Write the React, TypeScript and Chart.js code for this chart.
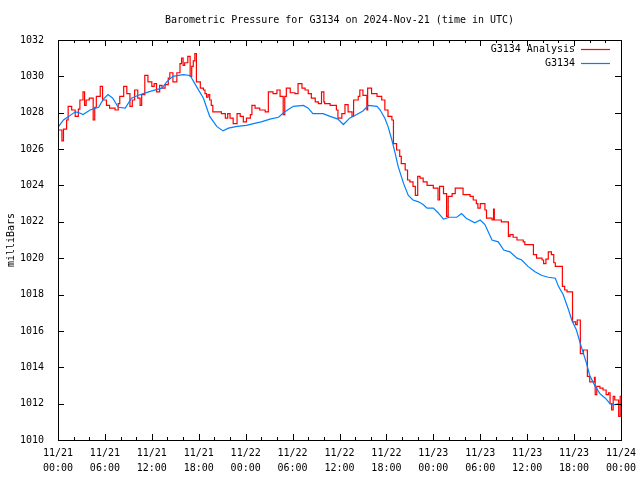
import React, { useEffect, useRef } from 'react';
import { Chart, registerables } from 'chart.js';

Chart.register(...registerables);

const chartTitle = 'Barometric Pressure for G3134 on 2024-Nov-21 (time in UTC)';
const yAxisLabel = 'milliBars';
const seriesNames = ['G3134 Analysis', 'G3134'];
const seriesColors = ['#ff0000', '#0080ff'];

const xTickHours = [0, 6, 12, 18, 24, 30, 36, 42, 48, 54, 60, 66, 72];
const xTickDates = ['11/21', '11/21', '11/21', '11/21', '11/22', '11/22', '11/22', '11/22', '11/23', '11/23', '11/23', '11/23', '11/24'];
const xTickTimes = ['00:00', '06:00', '12:00', '18:00', '00:00', '06:00', '12:00', '18:00', '00:00', '06:00', '12:00', '18:00', '00:00'];
const yTickValues = [1010, 1012, 1014, 1016, 1018, 1020, 1022, 1024, 1026, 1028, 1030, 1032];

// hours since 2024-11-21 00:00 UTC
const analysisHours = [
  0.0, 0.5, 0.7, 1.1, 1.3, 1.75, 2.2, 2.6, 2.8, 3.2, 3.4, 3.6, 4.0, 4.5, 4.7, 4.9, 5.4, 5.7, 6.2, 6.6,
  7.3, 7.7, 7.9, 8.4, 8.8, 9.2, 9.5, 9.8, 10.2, 10.5, 10.7, 11.1, 11.5, 12.0, 12.3, 12.6, 13.0, 13.3, 13.7, 14.1,
  14.3, 14.7, 15.2, 15.6, 15.8, 16.0, 16.2, 16.6, 16.9, 17.1, 17.3, 17.5, 17.7, 18.2, 18.6, 18.8, 19.0, 19.2, 19.4, 19.6,
  19.8, 20.5, 20.9, 21.4, 21.7, 22.0, 22.4, 22.9, 23.3, 23.7, 24.1, 24.6, 24.8, 25.2, 25.8, 26.5, 26.9, 27.5, 28.0, 28.4,
  28.8, 29.0, 29.2, 29.7, 30.3, 30.7, 31.2, 31.6, 32.0, 32.4, 32.9, 33.3, 33.7, 34.0, 34.1, 34.8, 35.6, 35.8, 36.3, 36.7,
  37.1, 37.6, 37.8, 38.4, 38.6, 39.0, 39.5, 39.6, 40.1, 40.8, 41.4, 41.8, 42.2, 42.7, 42.9, 43.3, 43.7, 43.9, 44.4, 44.7,
  45.0, 45.4, 45.7, 46.0, 46.3, 46.7, 47.2, 48.0, 48.6, 48.8, 49.3, 49.7, 49.9, 50.4, 50.8, 51.7, 51.8, 52.7, 53.1, 53.5,
  53.7, 54.0, 54.6, 54.8, 55.5, 55.7, 55.8, 56.7, 57.6, 57.8, 58.2, 58.7, 59.5, 59.7, 60.8, 61.2, 61.9, 62.1, 62.4, 62.7,
  63.1, 63.4, 63.6, 64.5, 64.8, 65.1, 65.8, 66.2, 66.4, 66.8, 67.2, 67.7, 68.0, 68.6, 68.7, 68.9, 69.3, 69.7, 70.1, 70.4,
  70.6, 70.8, 71.0, 71.2, 71.7, 71.9, 72.0,
];
const analysisValues = [
  1027.05, 1026.45, 1027.1, 1027.6, 1028.35, 1028.15, 1027.8, 1028.2, 1028.7, 1029.15, 1028.4, 1028.7, 1028.8, 1027.6, 1028.3, 1028.9, 1029.45, 1028.7, 1028.4, 1028.25,
  1028.15, 1028.5, 1028.9, 1029.45, 1029.05, 1028.35, 1028.7, 1029.25, 1028.8, 1028.4, 1029.0, 1030.05, 1029.7, 1029.45, 1029.6, 1029.15, 1029.5, 1029.35, 1029.55, 1029.9,
  1030.2, 1029.7, 1030.2, 1030.7, 1031.0, 1030.6, 1030.75, 1031.1, 1030.0, 1030.55, 1030.85, 1031.25, 1029.7, 1029.35, 1029.25, 1029.05, 1028.85, 1029.0, 1028.7, 1028.4,
  1028.05, 1028.05, 1027.95, 1027.7, 1027.95, 1027.7, 1027.4, 1027.95, 1027.8, 1027.5, 1027.7, 1027.9, 1028.4, 1028.25, 1028.15, 1028.05, 1029.15, 1029.05, 1029.25, 1028.9,
  1027.9, 1028.9, 1029.35, 1029.1, 1029.05, 1029.6, 1029.35, 1029.25, 1029.05, 1028.8, 1028.6, 1028.5, 1029.15, 1028.6, 1028.5, 1028.4, 1028.15, 1027.7, 1027.95, 1028.45,
  1028.05, 1027.8, 1028.7, 1028.9, 1029.25, 1028.95, 1028.15, 1029.35, 1029.05, 1028.9, 1028.7, 1028.15, 1027.8, 1027.6, 1026.3, 1025.95, 1025.6, 1025.2, 1024.85, 1024.3,
  1024.2, 1023.95, 1023.45, 1024.5, 1024.4, 1024.2, 1024.0, 1023.85, 1023.2, 1023.95, 1023.55, 1022.3, 1023.4, 1023.55, 1023.85, 1023.85, 1023.5, 1023.4, 1023.2, 1023.0,
  1022.75, 1023.0, 1022.65, 1022.2, 1022.1, 1022.7, 1022.1, 1022.0, 1021.2, 1021.3, 1021.15, 1021.0, 1020.9, 1020.75, 1020.2, 1020.0, 1019.9, 1019.7, 1019.95, 1020.35,
  1020.2, 1019.75, 1019.55, 1018.45, 1018.25, 1018.15, 1016.5, 1016.35, 1016.6, 1014.75, 1014.95, 1013.5, 1013.2, 1013.45, 1012.5, 1012.95, 1012.85, 1012.75, 1012.5, 1012.6,
  1012.0, 1011.65, 1012.4, 1012.2, 1011.3, 1012.4, 1012.4,
];

const stationHours = [
  0.0, 0.7, 1.4, 2.2, 2.7, 3.2, 4.1, 5.2, 5.8, 6.4, 7.0, 7.7, 8.6, 9.4, 10.2, 10.9, 12.0, 13.3, 13.9, 14.7,
  16.0, 16.9, 17.7, 18.6, 19.4, 20.3, 21.1, 21.8, 22.9, 24.1, 25.0, 26.0, 27.1, 28.2, 29.0, 30.1, 31.4, 32.0, 32.6, 33.9,
  34.8, 35.8, 36.5, 37.3, 38.2, 39.0, 39.7, 40.8, 41.2, 41.8, 42.2, 42.7, 43.1, 43.5, 44.2, 44.8, 45.4, 46.1, 46.7, 47.2,
  48.0, 48.6, 49.3, 50.1, 51.0, 51.6, 52.2, 53.3, 54.0, 54.6, 55.5, 56.3, 57.0, 57.8, 58.7, 59.3, 60.1, 61.0, 61.9, 62.7,
  63.6, 64.0, 64.6, 65.3, 65.7, 66.3, 66.8, 67.2, 67.6, 68.0, 68.7, 69.3, 70.0, 70.6, 71.2, 71.9,
];
const stationValues = [
  1027.2, 1027.6, 1027.8, 1028.05, 1028.0, 1027.9, 1028.15, 1028.3, 1028.75, 1029.0, 1028.8, 1028.3, 1028.25, 1028.8, 1028.95, 1029.05, 1029.2, 1029.35, 1029.7, 1030.0,
  1030.1, 1030.05, 1029.45, 1028.8, 1027.8, 1027.25, 1027.0, 1027.15, 1027.25, 1027.3, 1027.4, 1027.5, 1027.65, 1027.75, 1028.05, 1028.35, 1028.4, 1028.25, 1027.95, 1027.95,
  1027.8, 1027.65, 1027.35, 1027.7, 1027.9, 1028.1, 1028.4, 1028.35, 1028.15, 1027.7, 1027.25, 1026.5, 1025.8, 1025.05, 1024.1, 1023.45, 1023.2, 1023.1, 1022.95, 1022.75,
  1022.75, 1022.5, 1022.15, 1022.25, 1022.25, 1022.45, 1022.2, 1021.95, 1022.1, 1021.85, 1021.0, 1020.9, 1020.45, 1020.35, 1020.0, 1019.9, 1019.55, 1019.25, 1019.05, 1018.95,
  1018.9, 1018.45, 1018.0, 1017.15, 1016.6, 1016.05, 1015.3, 1014.75, 1014.2, 1013.55, 1012.95, 1012.55, 1012.3, 1012.0, 1011.95, 1012.0,
];

const FONT = "'DejaVu Sans Mono', 'Liberation Mono', monospace";

const gnuplotDecor = {
  id: 'gnuplotDecor',
  afterDatasetsDraw(chart: any) {
    const { ctx, chartArea, scales } = chart;
    const { left, right, top, bottom } = chartArea;
    const x = scales.x;
    const y = scales.y;
    ctx.save();
    ctx.strokeStyle = '#000';
    ctx.lineWidth = 1;
    ctx.beginPath();
    for (let h = 0; h <= 72; h += 2) {
      const px = Math.round(x.getPixelForValue(h)) + 0.5;
      const len = h % 6 === 0 ? 6 : 3;
      ctx.moveTo(px, bottom);
      ctx.lineTo(px, bottom - len);
      ctx.moveTo(px, top);
      ctx.lineTo(px, top + len);
    }
    for (const v of yTickValues) {
      const py = Math.round(y.getPixelForValue(v)) + 0.5;
      ctx.moveTo(left, py);
      ctx.lineTo(left + 6, py);
      ctx.moveTo(right, py);
      ctx.lineTo(right - 6, py);
    }
    ctx.stroke();
    ctx.strokeRect(Math.round(left) + 0.5, Math.round(top) + 0.5, Math.round(right - left), Math.round(bottom - top));

    ctx.fillStyle = '#000';
    ctx.font = `10px ${FONT}`;
    ctx.textBaseline = 'middle';
    ctx.textAlign = 'center';
    ctx.fillText(chartTitle, (left + right) / 2, 20);

    ctx.textAlign = 'right';
    const legendY = [49, 63];
    seriesNames.forEach((name, i) => {
      ctx.fillStyle = '#000';
      ctx.fillText(name, 575, legendY[i]);
      ctx.strokeStyle = seriesColors[i];
      ctx.lineWidth = 1.2;
      ctx.beginPath();
      ctx.moveTo(581, legendY[i] + 0.5);
      ctx.lineTo(610, legendY[i] + 0.5);
      ctx.stroke();
    });

    ctx.fillStyle = '#000';
    ctx.translate(11, (top + bottom) / 2);
    ctx.rotate(-Math.PI / 2);
    ctx.textAlign = 'center';
    ctx.fillText(yAxisLabel, 0, 0);
    ctx.restore();
  },
};

export default function App() {
  const canvasRef = useRef<HTMLCanvasElement | null>(null);

  useEffect(() => {
    if (!canvasRef.current) return;
    const chart = new Chart(canvasRef.current, {
      type: 'line',
      data: {
        datasets: [
          {
            label: seriesNames[0],
            data: analysisHours.map((h, i) => ({ x: h, y: analysisValues[i] })),
            borderColor: seriesColors[0],
            backgroundColor: seriesColors[0],
            borderWidth: 1.2,
            pointRadius: 0,
            stepped: 'before',
            order: 2,
          },
          {
            label: seriesNames[1],
            data: stationHours.map((h, i) => ({ x: h, y: stationValues[i] })),
            borderColor: seriesColors[1],
            backgroundColor: seriesColors[1],
            borderWidth: 1.2,
            pointRadius: 0,
            tension: 0,
            order: 1,
          },
        ],
      },
      options: {
        responsive: false,
        animation: false,
        devicePixelRatio: 1,
        layout: { padding: { left: 0, right: 19, top: 40, bottom: 0 } },
        plugins: {
          legend: { display: false },
          title: { display: false },
          tooltip: { enabled: false },
        },
        scales: {
          x: {
            type: 'linear',
            min: 0,
            max: 72,
            afterFit: (scale: any) => {
              scale.height = 40;
            },
            afterBuildTicks: (scale: any) => {
              scale.ticks = xTickHours.map((v) => ({ value: v }));
            },
            grid: { display: false },
            border: { display: false },
            ticks: {
              autoSkip: false,
              maxRotation: 0,
              padding: -2,
              color: '#000',
              font: { family: FONT, size: 10, lineHeight: 1.5 },
              callback: (value: any) => {
                const i = xTickHours.indexOf(Number(value));
                return i >= 0 ? [xTickDates[i], xTickTimes[i]] : '';
              },
            },
          },
          y: {
            type: 'linear',
            min: 1010,
            max: 1032,
            afterFit: (scale: any) => {
              scale.width = 58;
            },
            afterBuildTicks: (scale: any) => {
              scale.ticks = yTickValues.map((v) => ({ value: v }));
            },
            grid: { display: false },
            border: { display: false },
            ticks: {
              padding: 6,
              color: '#000',
              font: { family: FONT, size: 10 },
              callback: (value: any) => String(value),
            },
          },
        },
      },
      plugins: [gnuplotDecor],
    });
    return () => chart.destroy();
  }, []);

  return (
    <div style={{ position: 'absolute', left: 0, top: 0, width: 640, height: 480, background: '#fff' }}>
      <canvas ref={canvasRef} width={640} height={480} style={{ width: 640, height: 480 }} />
    </div>
  );
}
